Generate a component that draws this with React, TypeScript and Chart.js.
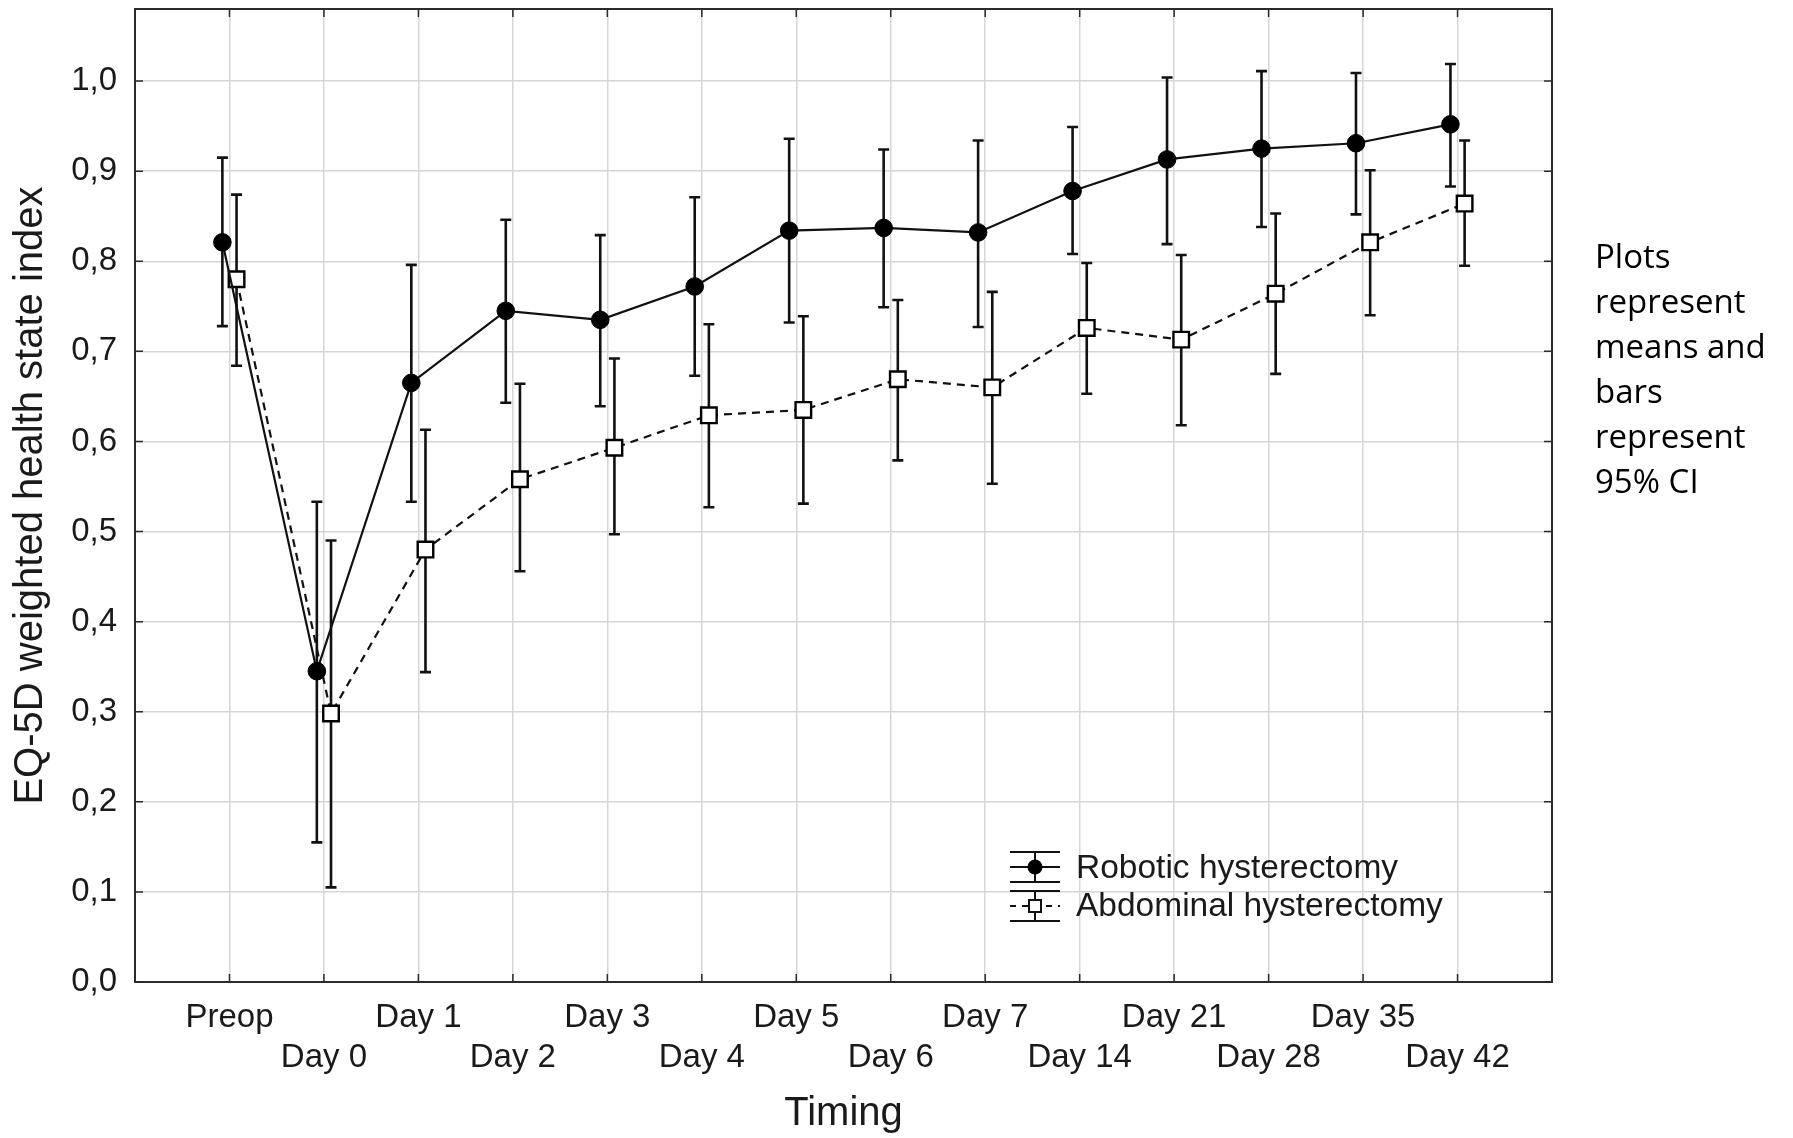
import React, { useEffect, useRef } from 'react';
import { Chart, registerables } from 'chart.js';

Chart.register(...registerables);

const categories = ['Preop', 'Day 0', 'Day 1', 'Day 2', 'Day 3', 'Day 4', 'Day 5', 'Day 6', 'Day 7', 'Day 14', 'Day 21', 'Day 28', 'Day 35', 'Day 42'];

const roboticMean = [0.821, 0.345, 0.665, 0.745, 0.735, 0.772, 0.834, 0.837, 0.832, 0.878, 0.913, 0.925, 0.931, 0.952];
const roboticLower = [0.728, 0.155, 0.533, 0.643, 0.639, 0.673, 0.732, 0.749, 0.727, 0.808, 0.819, 0.838, 0.852, 0.883];
const roboticUpper = [0.915, 0.533, 0.796, 0.846, 0.829, 0.871, 0.936, 0.924, 0.934, 0.949, 1.004, 1.011, 1.009, 1.019];

const abdominalMean = [0.780, 0.298, 0.480, 0.558, 0.593, 0.629, 0.635, 0.669, 0.660, 0.726, 0.713, 0.764, 0.821, 0.864];
const abdominalLower = [0.684, 0.105, 0.344, 0.456, 0.497, 0.527, 0.531, 0.579, 0.553, 0.653, 0.618, 0.675, 0.740, 0.795];
const abdominalUpper = [0.874, 0.490, 0.613, 0.664, 0.692, 0.730, 0.739, 0.757, 0.766, 0.798, 0.807, 0.853, 0.901, 0.934];

const yTicks = [0, 0.1, 0.2, 0.3, 0.4, 0.5, 0.6, 0.7, 0.8, 0.9, 1.0];

const seriesNames = ['Robotic hysterectomy', 'Abdominal hysterectomy'];
const noteLines = ['Plots', 'represent', 'means and', 'bars', 'represent', '95% CI'];

const FONT = '"Liberation Sans", Arial, sans-serif';
const NOTE_FONT = '"Open Sans", "Noto Sans", sans-serif';
const INK = '#1a1a1a';

const errorBars = [
  { lower: roboticLower, upper: roboticUpper },
  { lower: abdominalLower, upper: abdominalUpper },
];

const errorBarPlugin = {
  id: 'errorBars',
  beforeDatasetsDraw(chart: any) {
    const ctx = chart.ctx;
    const y = chart.scales.y;
    ctx.save();
    ctx.strokeStyle = '#111';
    ctx.lineWidth = 2.6;
    ctx.setLineDash([]);
    errorBars.forEach((eb, di) => {
      const meta = chart.getDatasetMeta(di);
      meta.data.forEach((pt: any, j: number) => {
        const x = pt.x;
        const yl = y.getPixelForValue(eb.lower[j]);
        const yu = y.getPixelForValue(eb.upper[j]);
        ctx.beginPath();
        ctx.moveTo(x, yl);
        ctx.lineTo(x, yu);
        ctx.moveTo(x - 5.5, yl);
        ctx.lineTo(x + 5.5, yl);
        ctx.moveTo(x - 5.5, yu);
        ctx.lineTo(x + 5.5, yu);
        ctx.stroke();
      });
    });
    ctx.restore();
  },
};

const framePlugin = {
  id: 'frame',
  afterDraw(chart: any) {
    const ctx = chart.ctx;
    const { left, right, top, bottom } = chart.chartArea;
    const xs = chart.scales.x;
    const ys = chart.scales.y;
    ctx.save();
    ctx.strokeStyle = '#2b2b2b';
    ctx.lineWidth = 2;
    ctx.strokeRect(left, top, right - left, bottom - top);
    ctx.lineWidth = 1.5;
    ctx.beginPath();
    xs.ticks.forEach((t: any) => {
      const px = xs.getPixelForValue(t.value);
      ctx.moveTo(px, bottom);
      ctx.lineTo(px, bottom - 8);
      ctx.moveTo(px, top);
      ctx.lineTo(px, top + 8);
    });
    ys.ticks.forEach((t: any) => {
      const py = ys.getPixelForValue(t.value);
      ctx.moveTo(left, py);
      ctx.lineTo(left + 8, py);
      ctx.moveTo(right, py);
      ctx.lineTo(right - 8, py);
    });
    ctx.stroke();

    // legend
    const lx1 = 1010, lx2 = 1060, lcx = 1035, tx = 1076;
    ctx.strokeStyle = '#111';
    ctx.lineWidth = 2;
    ctx.beginPath();
    ctx.moveTo(lx1, 852); ctx.lineTo(lx2, 852);
    ctx.moveTo(lx1, 882); ctx.lineTo(lx2, 882);
    ctx.moveTo(lcx, 852); ctx.lineTo(lcx, 882);
    ctx.moveTo(lx1, 867); ctx.lineTo(lx2, 867);
    ctx.stroke();
    ctx.fillStyle = '#000';
    ctx.beginPath();
    ctx.arc(lcx, 867, 7.5, 0, Math.PI * 2);
    ctx.fill();
    ctx.beginPath();
    ctx.moveTo(lx1, 891); ctx.lineTo(lx2, 891);
    ctx.moveTo(lx1, 921); ctx.lineTo(lx2, 921);
    ctx.moveTo(lcx, 891); ctx.lineTo(lcx, 921);
    ctx.stroke();
    ctx.beginPath();
    ctx.setLineDash([6, 6]);
    ctx.moveTo(lx1, 906); ctx.lineTo(lx2, 906);
    ctx.stroke();
    ctx.setLineDash([]);
    ctx.fillStyle = '#fff';
    ctx.fillRect(lcx - 6, 900, 12, 12);
    ctx.strokeRect(lcx - 6, 900, 12, 12);

    ctx.fillStyle = INK;
    ctx.font = `33.5px ${FONT}`;
    ctx.textAlign = 'left';
    ctx.textBaseline = 'middle';
    ctx.fillText(seriesNames[0], tx, 869);
    ctx.fillText(seriesNames[1], tx, 907);

    ctx.fillStyle = '#000';
    ctx.font = `33px ${NOTE_FONT}`;
    ctx.textBaseline = 'alphabetic';
    noteLines.forEach((s, i) => {
      ctx.fillText(s, 1595, 268 + i * 45);
    });
    ctx.restore();
  },
};

export default function App() {
  const ref = useRef<HTMLCanvasElement | null>(null);

  useEffect(() => {
    if (!ref.current) return;
    const off = 0.075;
    const chart = new Chart(ref.current, {
      type: 'line',
      data: {
        datasets: [
          {
            label: seriesNames[0],
            data: roboticMean.map((v, i) => ({ x: i - off, y: v })),
            borderColor: '#111',
            borderWidth: 2.2,
            pointStyle: 'circle',
            pointRadius: 8.8,
            pointBackgroundColor: '#000',
            pointBorderColor: '#000',
            pointBorderWidth: 1,
            fill: false,
            tension: 0,
          },
          {
            label: seriesNames[1],
            data: abdominalMean.map((v, i) => ({ x: i + off, y: v })),
            borderColor: '#111',
            borderWidth: 2.2,
            borderDash: [8, 6],
            pointStyle: 'rect',
            pointRadius: 11,
            pointBackgroundColor: '#fff',
            pointBorderColor: '#000',
            pointBorderWidth: 2.4,
            fill: false,
            tension: 0,
          },
        ],
      },
      options: {
        animation: false,
        responsive: false,
        layout: { autoPadding: false, padding: { top: 9, right: 241, left: 0, bottom: 0 } },
        plugins: {
          legend: { display: false },
          tooltip: { enabled: false },
        },
        scales: {
          x: {
            type: 'linear',
            min: -1,
            max: 14,
            afterBuildTicks: (s: any) => {
              s.ticks = categories.map((_, i) => ({ value: i }));
            },
            afterFit: (s: any) => {
              s.height = 156;
              s.paddingLeft = 0;
              s.paddingRight = 0;
            },
            ticks: {
              autoSkip: false,
              maxRotation: 0,
              minRotation: 0,
              padding: 16,
              color: INK,
              font: { family: FONT, size: 33, lineHeight: '40px' },
              callback: (v: any) => {
                const i = Math.round(Number(v));
                const name = categories[i] ?? '';
                return i % 2 === 0 ? [name, ''] : ['', name];
              },
            },
            grid: { color: '#d6d6d6', lineWidth: 1.5, drawTicks: false },
            border: { display: true, color: '#2b2b2b', width: 2 },
            title: {
              display: true,
              text: 'Timing',
              color: INK,
              font: { family: FONT, size: 40 },
              padding: { top: 0, bottom: 0 },
            },
          },
          y: {
            type: 'linear',
            min: 0,
            max: 1.08,
            afterBuildTicks: (s: any) => {
              s.ticks = yTicks.map((v) => ({ value: v }));
            },
            afterFit: (s: any) => {
              s.width = 135;
              s.paddingTop = 0;
              s.paddingBottom = 0;
            },
            ticks: {
              padding: 18,
              color: INK,
              font: { family: FONT, size: 33 },
              callback: (v: any) => Number(v).toFixed(1).replace('.', ','),
            },
            grid: { color: '#d6d6d6', lineWidth: 1.5, drawTicks: false },
            border: { display: true, color: '#2b2b2b', width: 2 },
            title: {
              display: true,
              text: 'EQ-5D weighted health state index',
              color: INK,
              font: { family: FONT, size: 40 },
              padding: { top: 7, bottom: 0 },
            },
          },
        },
      },
      plugins: [errorBarPlugin, framePlugin],
    } as any);
    return () => chart.destroy();
  }, []);

  return (
    <div style={{ position: 'absolute', left: 0, top: 0, width: 1793, height: 1138, background: '#fff' }}>
      <canvas ref={ref} width={1793} height={1138} style={{ width: 1793, height: 1138, display: 'block' }} />
    </div>
  );
}
